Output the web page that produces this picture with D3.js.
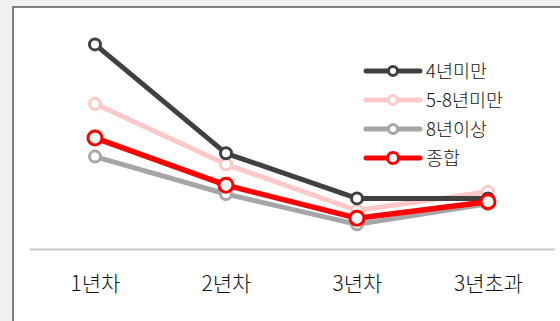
<!DOCTYPE html>
<html><head><meta charset="utf-8">
<script src="https://cdn.jsdelivr.net/npm/d3@7"></script>
<style>
html,body{margin:0;padding:0;background:#f0f0f0;}
svg{display:block;}
</style></head>
<body>
<svg id="c" width="560" height="321"></svg>
<script>
const categories = ["1년차", "2년차", "3년차", "3년초과"];
const seriesNames = ["4년미만", "5-8년미만", "8년이상", "종합"];
const seriesColors = ["#404040", "#ffc8c8", "#a6a6a6", "#ff0000"];
const v4 = [9.3, 4.35, 2.3, 2.3];
const v58 = [6.6, 3.85, 1.75, 2.6];
const v8 = [4.2, 2.5, 1.12, 2.05];
const vAll = [5.05, 2.9, 1.4, 2.15];
const seriesValues = [v4, v58, v8, vAll];

const svg = d3.select("#c");
// panel
svg.append("rect").attr("x", 13).attr("y", 7).attr("width", 560).attr("height", 330)
  .attr("fill", "#fff").attr("stroke", "#808080").attr("stroke-width", 2);

const x = d3.scalePoint().domain(categories).range([95, 488]);
const y = d3.scaleLinear().domain([0, 10]).range([249, 29]);

svg.append("line").attr("x1", 30).attr("x2", 555).attr("y1", 249.5).attr("y2", 249.5)
  .attr("stroke", "#c8c8c8").attr("stroke-width", 2);

const font = "'Noto Sans CJK KR', 'Noto Sans', sans-serif";
const xAxis = svg.append("g").attr("transform", "translate(0,249)")
  .call(d3.axisBottom(x).tickSize(0).tickPadding(27));
xAxis.select(".domain").remove();
xAxis.selectAll("text").attr("font-family", font).attr("font-weight", 300)
  .attr("font-size", 21).attr("fill", "#111");

const drawOrder = [2, 1, 0, 3];
const line = d3.line().x((d, i) => x(categories[i])).y(d => y(d));
drawOrder.forEach(k => {
  svg.append("path").datum(seriesValues[k]).attr("d", line)
    .attr("fill", "none").attr("stroke", seriesColors[k]).attr("stroke-width", k === 3 ? 5.5 : 5)
    .attr("stroke-linejoin", "round");
});
drawOrder.forEach(k => {
  const r = k === 3 ? 7 : 5.5;
  svg.append("g").selectAll("circle").data(seriesValues[k]).join("circle")
    .attr("cx", (d, i) => x(categories[i])).attr("cy", d => y(d)).attr("r", r)
    .attr("fill", "#fff").attr("stroke", seriesColors[k]).attr("stroke-width", 3);
});

// legend
const lg = svg.append("g").attr("transform", "translate(366,71)");
seriesNames.forEach((n, k) => {
  const g = lg.append("g").attr("transform", `translate(0,${k * 29})`);
  g.append("line").attr("x1", 0).attr("x2", 54).attr("y1", 0).attr("y2", 0)
    .attr("stroke", seriesColors[k]).attr("stroke-width", 5).attr("stroke-linecap", "round");
  g.append("circle").attr("cx", 27).attr("cy", 0).attr("r", k === 3 ? 5.5 : 4.5)
    .attr("fill", "#fff").attr("stroke", seriesColors[k]).attr("stroke-width", 3);
  g.append("text").attr("x", 60).attr("y", 0).attr("dy", "0.36em")
    .attr("font-family", font).attr("font-weight", 300).attr("font-size", 18.5)
    .attr("fill", "#111").text(n);
});
</script>
</body></html>
